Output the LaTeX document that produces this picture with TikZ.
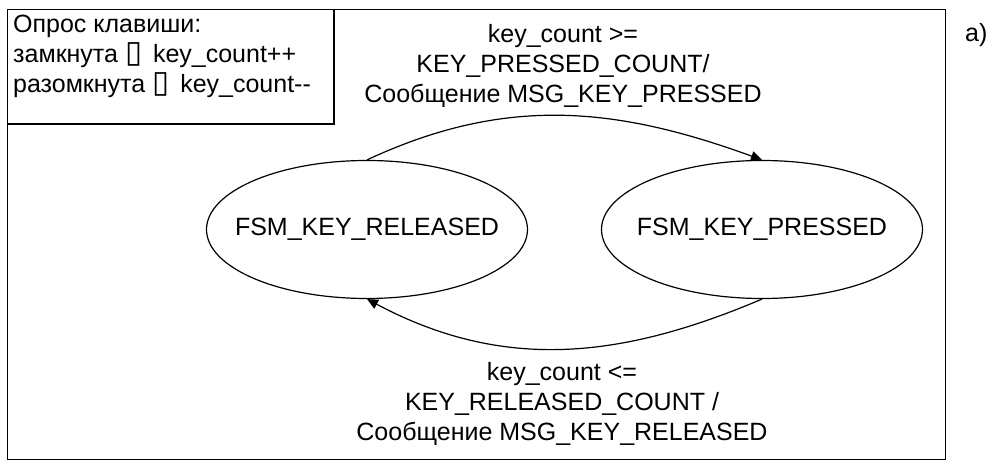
\documentclass[tikz,border=0pt]{standalone}
\usepackage{fontspec}
\setmainfont{Liberation Sans}
\newfontfamily\tofufont{DejaVu Sans}
\usetikzlibrary{arrows.meta,shapes.geometric}

\tikzset{
  frame/.style={draw, line width=1.5pt},
  state/.style={draw, ellipse, line width=1.2pt, minimum width=321pt, minimum height=138pt, inner sep=0pt},
  trans/.style={line width=1.2pt, -{Triangle[length=11pt,width=10pt]}},
  note/.style={align=center, anchor=north}
}
\newcommand{\tofu}{{\tofufont\fontsize{31pt}{30pt}\selectfont ▯}}
\newcommand{\statetext}[1]{\makebox[0pt]{#1}}

\begin{document}
\begin{tikzpicture}[x=1pt, y=1pt, every node/.style={font=\fontsize{25pt}{30pt}\selectfont, inner sep=0pt}]
    % Canvas
    \useasboundingbox (0,0) rectangle (989,461);

    % Frame and legend box
    \draw[frame] (7.5,1.5) rectangle (945.5,451.5);
    \draw[frame] (7.5,451.5) rectangle (334,337);
    \node[anchor=north west, align=left] (legend) at (13,446)
        {Опрос клавиши:\\ замкнута \tofu\hspace{4pt} key\_count++\\ разомкнута \tofu\hspace{4pt} key\_count-{}-};
    \node[anchor=base west] (tag) at (965,419) {a)};

    % States
    \node[state] (released) at (367,231.5) {\statetext{FSM\_KEY\_RELEASED}};
    \node[state] (pressed) at (762,231.5) {\statetext{FSM\_KEY\_PRESSED}};

    % Transitions
    \draw[trans] (released.north) to[out=25, in=160] (pressed.north);
    \draw[trans] (pressed.south) to[out=-157, in=-28] (released.south);

    % Transition labels
    \node[note] (presslbl) at (563,437)
        {key\_count >=\\ KEY\_PRESSED\_COUNT/\\ Сообщение MSG\_KEY\_PRESSED};
    \node[note] (releaselbl) at (562,99)
        {key\_count <=\\ KEY\_RELEASED\_COUNT /\\ Сообщение MSG\_KEY\_RELEASED};
\end{tikzpicture}
\end{document}
